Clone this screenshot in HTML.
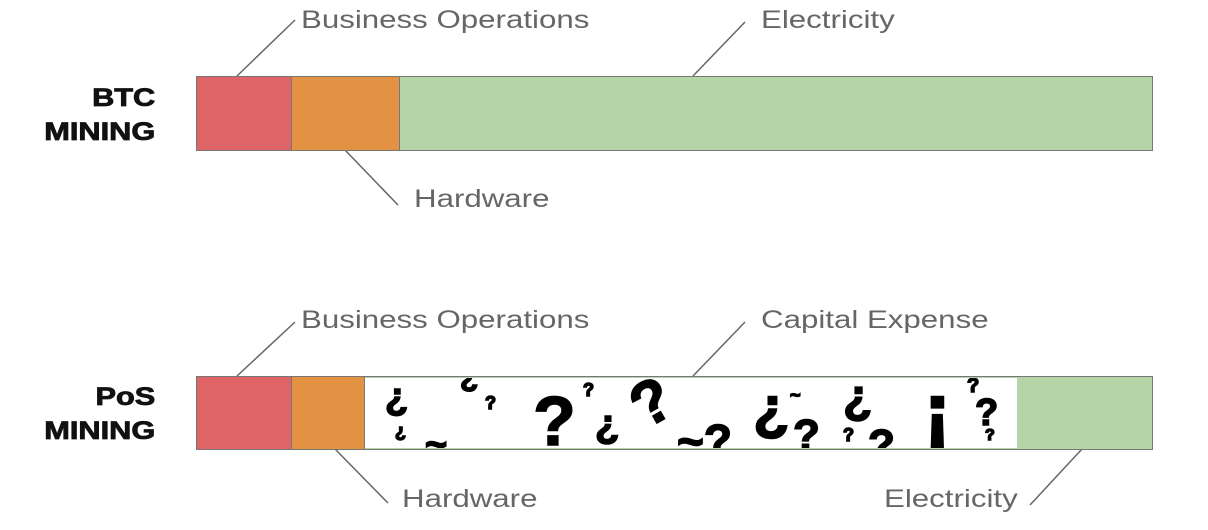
<!DOCTYPE html>
<html><head><style>
body{margin:0;width:1208px;height:530px;background:#fff;position:relative;overflow:hidden;font-family:"Liberation Sans",sans-serif}
.t{position:absolute;color:#666;font-size:25px;line-height:1;white-space:nowrap;transform:scaleX(1.25);transform-origin:left top}
.h{position:absolute;right:1053px;text-align:right;font-weight:bold;font-size:25px;line-height:34px;color:#111;transform:scaleX(1.23);transform-origin:right top;-webkit-text-stroke:0.8px #111}
.b{position:absolute;box-sizing:border-box;border:1.5px solid #777}
.q{position:absolute;font-weight:bold;color:#000;line-height:1;-webkit-text-stroke:1.5px #000}
#qs{position:absolute;left:365px;top:378px;width:652px;height:70px;overflow:hidden;background:#fff}
</style></head><body>
<svg width="1208" height="530" style="position:absolute;left:0;top:0" stroke="#666" stroke-width="1.5">
<line x1="237" y1="76" x2="295" y2="20"/><line x1="693" y1="76" x2="745" y2="22"/><line x1="345" y1="150" x2="398" y2="205"/>
<line x1="237" y1="376" x2="295" y2="322"/><line x1="693" y1="376" x2="745" y2="322"/><line x1="335" y1="449" x2="388" y2="503"/><line x1="1082" y1="449" x2="1030" y2="505"/>
</svg>
<div class="h" style="top:81px">BTC<br>MINING</div>
<div class="h" style="top:380px">PoS<br>MINING</div>
<div class="b" style="left:196px;top:76px;width:957px;height:75px;background:#b5d5a8"></div>
<div class="b" style="left:196px;top:76px;width:96px;height:75px;background:#df6468"></div>
<div class="b" style="left:291px;top:76px;width:109px;height:75px;background:#e39143"></div>
<div class="b" style="left:196px;top:376px;width:957px;height:74px;background:#b5d5a8"></div>
<div class="b" style="left:196px;top:376px;width:96px;height:74px;background:#df6468"></div>
<div class="b" style="left:291px;top:376px;width:74px;height:74px;background:#e39143"></div>
<div id="qs">
<span class="q" style="left:20px;top:0px;font-size:38px">¿</span>
<span class="q" style="left:30px;top:44px;font-size:18px">¿</span>
<span class="q" style="left:95px;top:-16px;font-size:30px">¿</span>
<span class="q" style="left:120px;top:16px;font-size:18px">?</span>
<span class="q" style="left:60px;top:48px;font-size:38px">~</span>
<span class="q" style="left:168px;top:8px;font-size:70px">?</span>
<span class="q" style="left:218px;top:3px;font-size:18px">?</span>
<span class="q" style="left:230px;top:26px;font-size:40px">¿</span>
<span class="q" style="left:268px;top:-6px;font-size:62px;transform:rotate(-30deg)">?</span>
<span class="q" style="left:312px;top:40px;font-size:46px">~?</span>
<span class="q" style="left:388px;top:0px;font-size:60px">¿</span>
<span class="q" style="left:425px;top:8px;font-size:18px">~</span>
<span class="q" style="left:428px;top:36px;font-size:44px">?</span>
<span class="q" style="left:478px;top:-4px;font-size:48px">¿</span>
<span class="q" style="left:478px;top:48px;font-size:18px">?</span>
<span class="q" style="left:503px;top:46px;font-size:44px">?</span>
<span class="q" style="left:558px;top:-8px;font-size:86px">¡</span>
<span class="q" style="left:602px;top:-2px;font-size:20px">?</span>
<span class="q" style="left:610px;top:16px;font-size:38px">?</span>
<span class="q" style="left:620px;top:50px;font-size:16px">?</span>
</div>
<div class="t" style="left:301px;top:8px">Business Operations</div>
<div class="t" style="left:761px;top:8px">Electricity</div>
<div class="t" style="left:414px;top:187px">Hardware</div>
<div class="t" style="left:301px;top:308px">Business Operations</div>
<div class="t" style="left:761px;top:308px">Capital Expense</div>
<div class="t" style="left:402px;top:487px">Hardware</div>
<div class="t" style="left:884px;top:487px">Electricity</div>
</body></html>
